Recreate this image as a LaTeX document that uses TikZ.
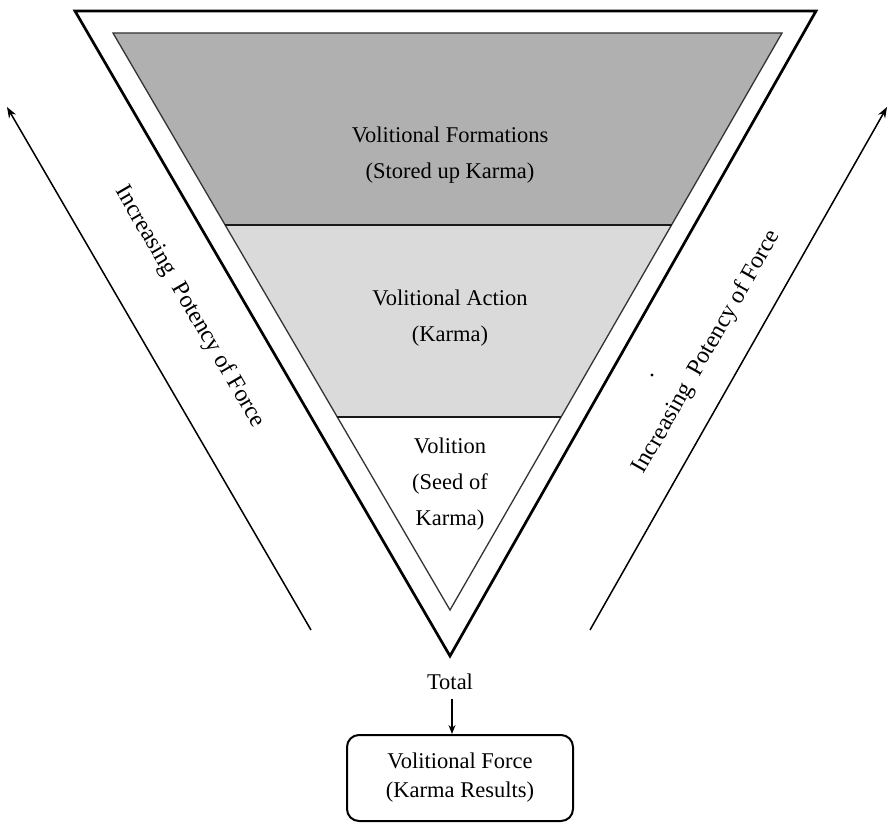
\documentclass[tikz,border=0pt]{standalone}
\usepackage{fontspec}
\setmainfont{Liberation Serif}
\usetikzlibrary{arrows.meta,calc}
\definecolor{bandtop}{RGB}{176,176,176}
\definecolor{bandmid}{RGB}{218,218,218}
\begin{document}
\begin{tikzpicture}[x=1pt,y=-1pt,
  outline/.style={line width=2.7pt, line join=miter},
  bandline/.style={draw=black!80, line width=1.3pt, line join=miter},
  sepline/.style={draw=black!90, line width=1.8pt},
  lbl/.style={font=\fontsize{22.5}{36}\selectfont, align=center, inner sep=0pt},
  sidelbl/.style={font=\fontsize{24}{28}\selectfont, inner sep=0pt},
  longarrow/.style={line width=1.5pt, -{Stealth[length=11pt,width=8pt]}},
  shortarrow/.style={line width=1.6pt, -{Stealth[length=9pt,width=7pt]}},
  resultbox/.style={draw, line width=2pt, rounded corners=12pt,
    minimum width=226pt, minimum height=86pt, inner sep=0pt,
    font=\fontsize{22.5}{29}\selectfont, align=center}]
\fill[white] (0,0) rectangle (893,824);
\useasboundingbox (0,0) rectangle (893,824);

% outer frame
\coordinate (OL) at (75,11);
\coordinate (OR) at (816,11);
\coordinate (OA) at (450,656);
% inner triangle
\coordinate (IL) at (113,33);
\coordinate (IR) at (782,33);
\coordinate (IA) at (450,610);
% band boundaries on the inner edges
\coordinate (L1) at ($(IL)!0.3328!(IA)$);
\coordinate (R1) at ($(IR)!0.3328!(IA)$);
\coordinate (L2) at ($(IL)!0.6655!(IA)$);
\coordinate (R2) at ($(IR)!0.6655!(IA)$);

\fill[bandtop] (IL) -- (IR) -- (R1) -- (L1) -- cycle;
\fill[bandmid] (L1) -- (R1) -- (R2) -- (L2) -- cycle;
\draw[bandline] (IL) -- (IR) -- (IA) -- cycle;
\draw[sepline] (L1) -- (R1);
\draw[sepline] (L2) -- (R2);
\draw[outline] (OL) -- (OR) -- (OA) -- cycle;

% band labels
\node[lbl] (formations) at (450,155) {Volitional Formations\\(Stored up Karma)};
\node[lbl] (action) at (450,318) {Volitional Action\\(Karma)};
\node[lbl] (volition) at (450,484) {Volition\\(Seed of\\Karma)};

% side arrows
\coordinate (ltail) at (311,630);
\coordinate (lhead) at (7,107);
\coordinate (rtail) at (590,630);
\coordinate (rhead) at (887,107);
\draw[longarrow] (ltail) -- (lhead);
\draw[longarrow] (rtail) -- (rhead);
\node[sidelbl, rotate=-59.8] (lside) at (190,307) {Increasing\hspace{0.25em} Potency of Force};
\node[sidelbl, rotate=60.4] (rside) at (707,352) {Increasing\hspace{0.25em} Potency of Force};
\fill (652,375) circle (1.6pt);

% result
\node[lbl] (total) at (450,682) {Total};
\node[resultbox] (result) at (460,778) {Volitional Force\\(Karma Results)};
\draw[shortarrow, shorten <=9pt] (total.south -| 452,0) -- (result.north -| 452,0);
\end{tikzpicture}
\end{document}
